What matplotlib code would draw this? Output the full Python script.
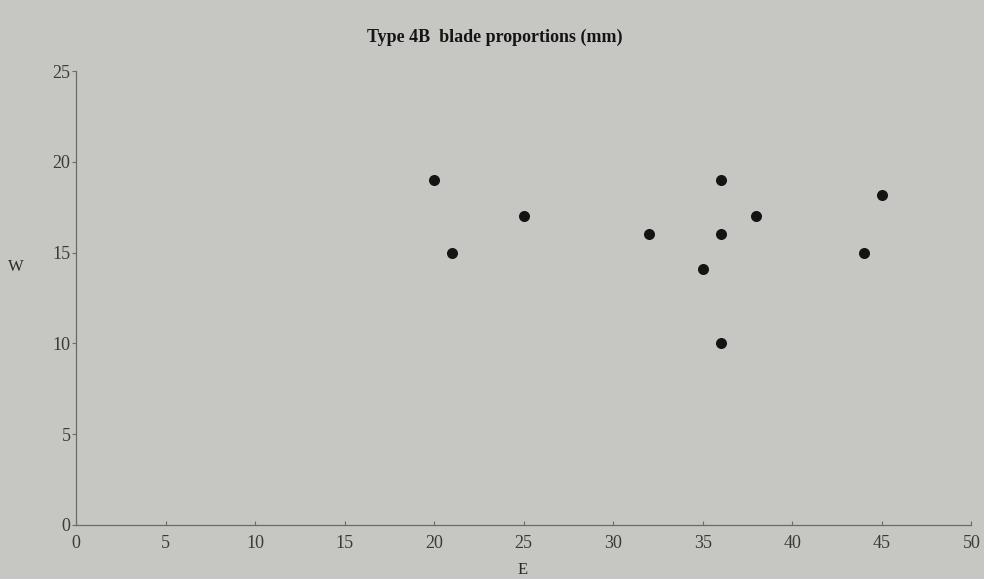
import numpy as np
import matplotlib
matplotlib.use('Agg')
import matplotlib.pyplot as plt

# blade measurements, E = length, W = width (mm)
e_vals = [20, 21, 25, 32, 35, 36, 36, 36, 38, 44, 45]
w_vals = [19, 15, 17, 16, 14.1, 19, 16, 10, 17, 15, 18.2]
x_ticks = [0, 5, 10, 15, 20, 25, 30, 35, 40, 45, 50]
y_ticks = [0, 5, 10, 15, 20, 25]

bg = '#c6c6c2'
axcol = '#6a6a68'

plt.rcParams['font.family'] = ['Liberation Serif', 'DejaVu Serif']

fig = plt.figure(figsize=(9.84, 5.79), dpi=100, facecolor=bg)
ax = fig.add_axes([0.0772, 0.0933, 0.91, 0.784])
ax.set_facecolor(bg)

ax.scatter(e_vals, w_vals, s=48, color='#141414', zorder=3)

ax.set_xlim(0, 50)
ax.set_ylim(0, 25)
ax.set_xticks(x_ticks)
ax.set_yticks(y_ticks)
ax.tick_params(axis='both', colors=axcol, labelcolor='#3a3a3a', labelsize=13,
               length=3, width=0.8, pad=1)
ax.tick_params(axis='x', direction='in', pad=7)

for side in ['top', 'right']:
    ax.spines[side].set_visible(False)
for side in ['left', 'bottom']:
    ax.spines[side].set_color(axcol)
    ax.spines[side].set_linewidth(0.9)

fig.text(0.503, 0.935, 'Type 4B  blade proportions (mm)', ha='center', va='center',
         fontsize=13, fontweight='bold', color='#151515')
fig.text(0.016, 0.538, 'W', ha='center', va='center', fontsize=12, color='#2a2a2a')
fig.text(0.531, 0.016, 'E', ha='center', va='center', fontsize=12, color='#2a2a2a')

fig.savefig('out.png', dpi=100, facecolor=bg)
